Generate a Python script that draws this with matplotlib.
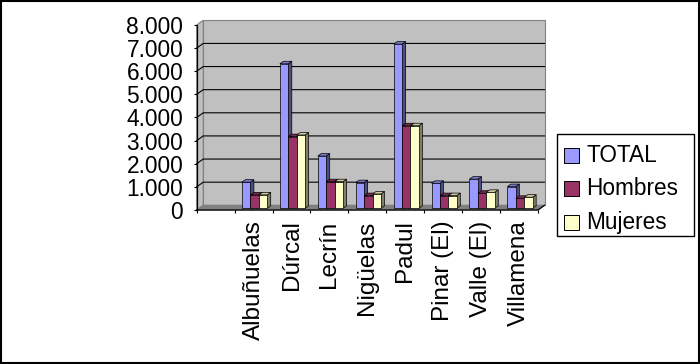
#!/usr/bin/env python3
"""Población por municipio (TOTAL / Hombres / Mujeres), estilo columna 3D de Excel."""

import matplotlib

matplotlib.use("Agg")
import matplotlib.pyplot as plt
from matplotlib.patches import Polygon, Rectangle
from matplotlib.ticker import FuncFormatter

plt.rcParams["font.family"] = ["Liberation Sans", "DejaVu Sans"]

categories = ["", "Albuñuelas", "Dúrcal", "Lecrín", "Nigüelas", "Padul",
              "Pinar (El)", "Valle (El)", "Villamena"]
total = [None, 1130, 6250, 2260, 1110, 7100, 1080, 1260, 940]
hombres = [None, 580, 3100, 1150, 550, 3570, 550, 650, 430]
mujeres = [None, 580, 3170, 1150, 620, 3570, 550, 690, 480]
series_names = ["TOTAL", "Hombres", "Mujeres"]
colors = ["#9999FF", "#993366", "#FFFFCC"]
sides = ["#4D4D80", "#4D1A33", "#80806A"]
tops = ["#7A7ACC", "#7A2952", "#CCCCA3"]

W, H = 700, 364
YMAX = 8000

fig = plt.figure(figsize=(W / 100, H / 100), dpi=100)
fig.patch.set_facecolor("white")

# axes placed in pixel terms (front plane of the 3D box)
x_left, x_right, y_zero, y_top = 196.7, 538.0, 210.0, 25.0
ax = fig.add_axes([x_left / W, 1 - y_zero / H, (x_right - x_left) / W, (y_zero - y_top) / H])
n = len(categories)
ax.set_xlim(-0.5, n - 0.5)
ax.set_ylim(0, YMAX)
ax.set_facecolor("none")
for s in ax.spines.values():
    s.set_visible(False)

# pixel -> data conversion for depth offsets
SX = n / (x_right - x_left)
SY = YMAX / (y_zero - y_top)


def off(px, py):
    return px * SX, py * SY


wdx, wdy = off(6.5, 4.7)
x0, x1 = -0.5, n - 0.5

# walls and floor
ax.add_patch(Polygon([(x0 + wdx, wdy), (x1 + wdx, wdy), (x1 + wdx, YMAX + wdy), (x0 + wdx, YMAX + wdy)],
                     facecolor="#C0C0C0", edgecolor="#808080", lw=0.8, zorder=1, clip_on=False))
ax.add_patch(Polygon([(x0, 0), (x0, YMAX), (x0 + wdx, YMAX + wdy), (x0 + wdx, wdy)],
                     facecolor="#C0C0C0", edgecolor="#808080", lw=0.8, zorder=1, clip_on=False))
ax.add_patch(Polygon([(x0, 0), (x1, 0), (x1 + wdx, wdy), (x0 + wdx, wdy)],
                     facecolor="#808080", edgecolor="#808080", lw=0.8, zorder=1, clip_on=False))

# gridlines on side wall and back wall
for v in range(1000, YMAX, 1000):
    ax.plot([x0, x0 + wdx, x1 + wdx], [v, v + wdy, v + wdy], color="black", lw=0.8,
            zorder=2, clip_on=False)

# axis lines
ax.plot([x0, x0], [0, YMAX], color="black", lw=0.9, zorder=50, clip_on=False)
ax.plot([x0, x1, x1 + wdx], [0, 0, wdy], color="black", lw=0.9, zorder=50, clip_on=False)

# bars
bw = 0.222
bdx, bdy = off(1.0, 1.7)   # set-back of the bar front from the axis plane
ddx, ddy = off(3.5, 2.5)   # bar depth
data = [total, hombres, mujeres]
for j, vals in enumerate(data):
    xs = [i - 1.5 * bw + j * bw + bdx for i in range(n) if vals[i] is not None]
    hs = [v for v in vals if v is not None]
    cats = [i for i in range(n) if vals[i] is not None]
    bars = ax.bar(xs, hs, width=bw, bottom=bdy, align="edge", color=colors[j],
                  edgecolor="black", linewidth=0.5, clip_on=False)
    for b, i, h in zip(bars, cats, hs):
        z = 10 + i * 3 + j
        b.set_zorder(z + 0.3)
        xa, xb = b.get_x(), b.get_x() + bw
        yb, yt = bdy, bdy + h
        ax.add_patch(Polygon([(xb, yb), (xb, yt), (xb + ddx, yt + ddy), (xb + ddx, yb + ddy)],
                             facecolor=sides[j], edgecolor="black", lw=0.5, zorder=z + 0.1,
                             clip_on=False))
        ax.add_patch(Polygon([(xa, yt), (xb, yt), (xb + ddx, yt + ddy), (xa + ddx, yt + ddy)],
                             facecolor=tops[j], edgecolor="black", lw=0.5, zorder=z + 0.2,
                             clip_on=False))

# ticks
ax.set_yticks(range(0, YMAX + 1, 1000))
ax.yaxis.set_major_formatter(FuncFormatter(lambda v, p: f"{int(v):,}".replace(",", ".")))
ax.tick_params(axis="y", length=2.2, width=0.8, pad=7.5, labelsize=16.4, direction="out")
ax.set_xticks(range(n))
ax.set_xticklabels(categories, rotation=90, fontsize=17.5)
ax.set_xticks([k - 0.5 for k in range(n + 1)], minor=True)
ax.tick_params(axis="x", which="major", length=0, pad=7.5)
ax.tick_params(axis="x", which="minor", length=2.2, width=0.8, direction="out")

# legend (drawn in figure pixels)
def fx(x):
    return x / W


def fy(y):
    return 1 - y / H


fig.add_artist(Rectangle((fx(556.7), fy(236)), (694.3 - 556.7) / W, (236 - 134) / H,
                         transform=fig.transFigure, facecolor="white", edgecolor="black", lw=1.0))
for k, (name, c) in enumerate(zip(series_names, colors)):
    cy = 155 + k * 33.7
    fig.add_artist(Rectangle((fx(564), fy(cy + 7.5)), 15 / W, 15 / H, transform=fig.transFigure,
                             facecolor=c, edgecolor="black", lw=0.7))
    fig.text(fx(586.5), fy(cy), name, fontsize=16.3, va="center", ha="left")

# outer border
fig.add_artist(Rectangle((0.001, 0.002), 0.997, 0.995, transform=fig.transFigure,
                         facecolor="none", edgecolor="black", lw=1.5))

fig.savefig("out.png", dpi=100)
